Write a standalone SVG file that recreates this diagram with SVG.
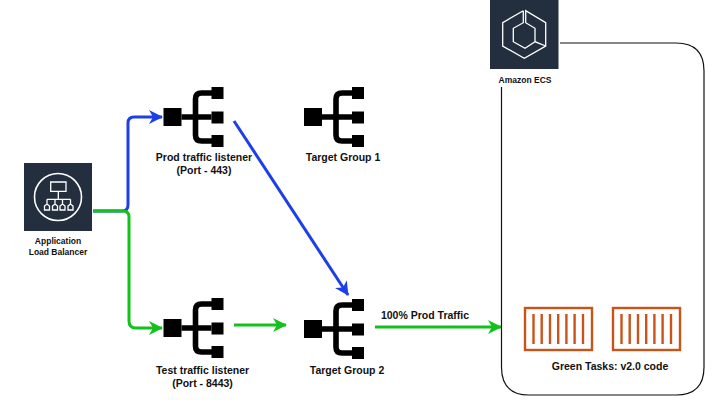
<svg xmlns="http://www.w3.org/2000/svg" width="720" height="400" viewBox="0 0 720 400">
<style>
text{font-family:"Liberation Sans",Arial,sans-serif;font-weight:700;fill:#111;text-anchor:middle}
.l{font-size:10.500px}.s{font-size:8.500px}
.c{fill:none;stroke-width:3}
.b{stroke:#1d3fe8}.g{stroke:#12c21a}
.ih{fill:#232f3e}.w{fill:none;stroke:#fff}
.o{fill:none;stroke:#c9541a;stroke-width:2.400}
</style>
<defs>
<marker id="ab" viewBox="0 0 14 14" refX="13" refY="7" markerWidth="14" markerHeight="14" markerUnits="userSpaceOnUse" orient="auto"><path d="M0 0L14 7L0 14L4 7Z" fill="#1d3fe8"/></marker>
<marker id="ag" viewBox="0 0 14 14" refX="13" refY="7" markerWidth="14" markerHeight="14" markerUnits="userSpaceOnUse" orient="auto"><path d="M0 0L14 7L0 14L4 7Z" fill="#12c21a"/></marker>
<g id="tg">
<rect x="0" y="0" width="18" height="18"/>
<rect x="48" y="-21" width="12" height="12"/><rect x="48" y="3.500" width="12" height="12"/><rect x="48" y="27" width="12" height="12"/>
<path d="M18 9H48M49 -15H38Q32 -15 32 -9V27Q32 33 38 33H49" fill="none" stroke="#000" stroke-width="5.600"/>
</g>
</defs>
<g id="connectors">
<path class="c b" d="M93 211H122Q128 211 128 205V123Q128 117 134 117H162" marker-end="url(#ab)"/>
<path class="c g" d="M93 211H123Q129 211 129 217V321Q129 328 136 328H162" marker-end="url(#ag)"/>
<path class="c b" d="M234 121L348 295" marker-end="url(#ab)"/>
<path class="c g" d="M234 325H286" marker-end="url(#ag)"/>
<path class="c g" d="M375 327H501" marker-end="url(#ag)"/>
</g>
<g id="ecs-container"><path d="M560 43H676Q704 43 704 71V367Q704 395 676 395H529Q501.500 395 501.500 367V87" fill="none" stroke="#111" stroke-width="1.200"/></g>
<g id="alb">
<rect class="ih" x="24" y="163" width="68" height="68"/>
<circle class="w" cx="58" cy="197" r="23.500" stroke-width="1.600"/>
<path class="w" stroke-width="1.300" d="M50.700 182h15.300v9.300h-15.300zM58.300 191.300v8M47 199.300h23.500M47 199.300v4.700M55 199.300v4.700M62.500 199.300v4.700M70.500 199.300v4.700M44.500 206l2.500-2 2.500 2v4h-5zM52.500 206l2.500-2 2.500 2v4h-5zM60 206l2.500-2 2.500 2v4h-5zM68 206l2.500-2 2.500 2v4h-5z"/>
<text class="s" x="58" y="244">Application</text><text class="s" x="58" y="254.500">Load Balancer</text>
</g>
<g id="prod-listener"><use href="#tg" x="163.500" y="108"/><text class="l" x="204" y="161">Prod traffic listener</text><text class="l" x="204" y="173.500">(Port - 443)</text></g>
<g id="target-group-1"><use href="#tg" x="304" y="108"/><text class="l" x="343" y="161">Target Group 1</text></g>
<g id="test-listener"><use href="#tg" x="163.500" y="319"/><text class="l" x="202.500" y="374">Test traffic listener</text><text class="l" x="202.500" y="387">(Port - 8443)</text></g>
<g id="target-group-2"><use href="#tg" x="304" y="320"/><text class="l" x="347" y="374">Target Group 2</text></g>
<g id="prod-label"><text class="l" x="425" y="319">100% Prod Traffic</text></g>
<g id="ecs">
<rect class="ih" x="490" y="0" width="68.500" height="69"/>
<path class="w" stroke-width="1.300" d="M523.300 10.700L502.700 22.700V46L524.300 58.300L545.700 46V22.700L525.700 10.700V22.700L535 28.300V41.700L545.700 46M523.300 10.700V22.700L513.300 28.300V41.700L525 48.300L535 41.700"/>
<text class="s" x="525" y="83">Amazon ECS</text>
</g>
<g id="task-1">
<rect class="o" x="525" y="308" width="67" height="42"/>
<path class="o" d="M533.500 314v30M541.700 314v30M550 314v30M558.200 314v30M566.400 314v30M574.600 314v30M583 314v30"/>
</g>
<g id="task-2">
<rect class="o" x="613" y="308" width="67" height="42"/>
<path class="o" d="M621.500 314v30M629.700 314v30M638 314v30M646.200 314v30M654.400 314v30M662.600 314v30M671 314v30"/>
</g>
<g id="green-label"><text class="l" x="610" y="370">Green Tasks: v2.0 code</text></g>
</svg>
